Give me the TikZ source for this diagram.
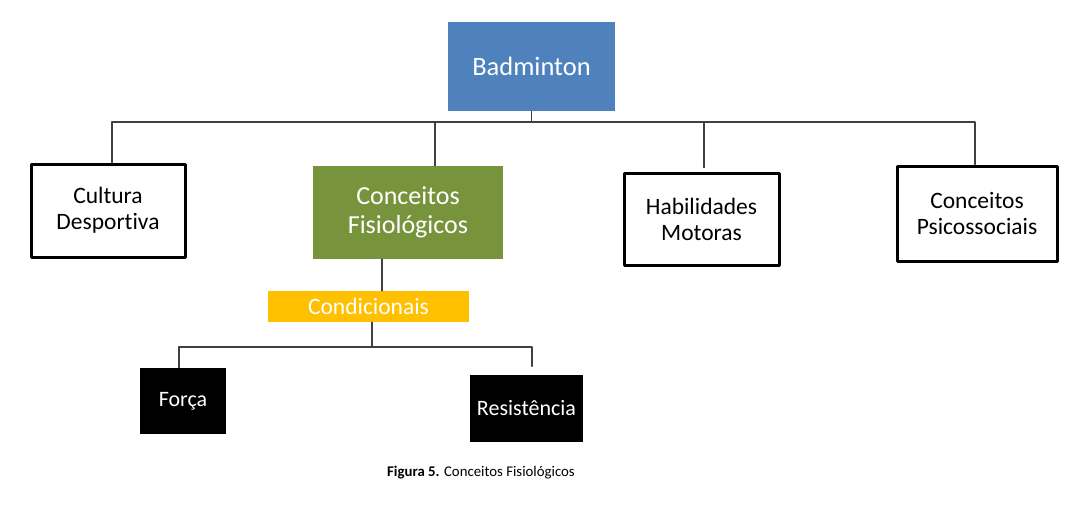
\documentclass[tikz,border=0pt]{standalone}
\usepackage{fontspec}
\setmainfont{Carlito}[Ligatures=CommonOff]
\usepackage{tikz}
\usetikzlibrary{arrows}

\definecolor{badblue}{HTML}{4F81BD}
\definecolor{fisgreen}{HTML}{77933C}
\definecolor{condgold}{HTML}{FFC000}
\definecolor{linkgray}{HTML}{404040}

\begin{document}
\begin{tikzpicture}[line cap=round,line join=round,x=1pt,y=1pt,
    whitebox/.style={draw=black,line width=3pt,fill=white,align=center,inner sep=0pt,
        font=\fontsize{23.5}{26}\selectfont},
    fillbox/.style={draw=none,text=white,align=center,inner sep=0pt},
    link/.style={draw=linkgray,line width=1.3pt}]
    \useasboundingbox (0.,0.) rectangle (1065.,-512.);
    % top of the tree
    \node[fillbox,fill=badblue,minimum width=167,minimum height=89,
        font=\fontsize{26.5}{29}\selectfont] (badminton) at (531.5,-66.5) {Badminton};
    \node[whitebox,minimum width=154,minimum height=93] (cultura) at (108.,-210.5) {Cultura\\Desportiva};
    \node[fillbox,fill=fisgreen,minimum width=190,minimum height=93,
        font=\fontsize{26}{29}\selectfont] (fisio) at (408.,-212.5) {Conceitos\\Fisiológicos};
    \node[whitebox,minimum width=155,minimum height=92] (habil) at (701.5,-219.) {Habilidades\\Motoras};
    \node[whitebox,minimum width=160,minimum height=95] (psico) at (977.,-213.5) {Conceitos\\Psicossociais};
    % lower branch
    \node[fillbox,fill=condgold,minimum width=201,minimum height=31,
        font=\fontsize{23.5}{26}\selectfont] (cond) at (368.5,-306.5) {Condicionais};
    \node[fillbox,fill=black,minimum width=86,minimum height=66,
        font=\fontsize{22}{25}\selectfont] (forca) at (183.,-401.) {Força};
    \node[fillbox,fill=black,minimum width=113,minimum height=67,
        font=\fontsize{22}{25}\selectfont] (resist) at (526.5,-408.) {Resistência};
    \node[font=\fontsize{14.8}{16}\selectfont] (caption) at (481.,-473.) {\textbf{Figura 5.} Conceitos Fisiológicos};
    % connectors
    \coordinate (bus) at (531.5,-122.);
    \coordinate (fisiofoot) at ([xshift=-26pt]fisio.south);
    \coordinate (bus2) at (372.,-347.);
    \draw[link] (badminton.south) -- (bus);
    \draw[link] (bus) -| ([xshift=4pt]cultura.north);
    \draw[link] (bus) -| ([xshift=27pt]fisio.north);
    \draw[link,shorten >=4pt] (bus) -| ([xshift=2.5pt]habil.north);
    \draw[link] (bus) -| ([xshift=-2pt]psico.north);
    \draw[link] (fisiofoot) -- (fisiofoot |- cond.north);
    \draw[link] ([xshift=3.5pt]cond.south) -- (bus2);
    \draw[link] (bus2) -| ([xshift=-4pt]forca.north);
    \draw[link,shorten >=8pt] (bus2) -| ([xshift=5.5pt]resist.north);
\end{tikzpicture}
\end{document}
